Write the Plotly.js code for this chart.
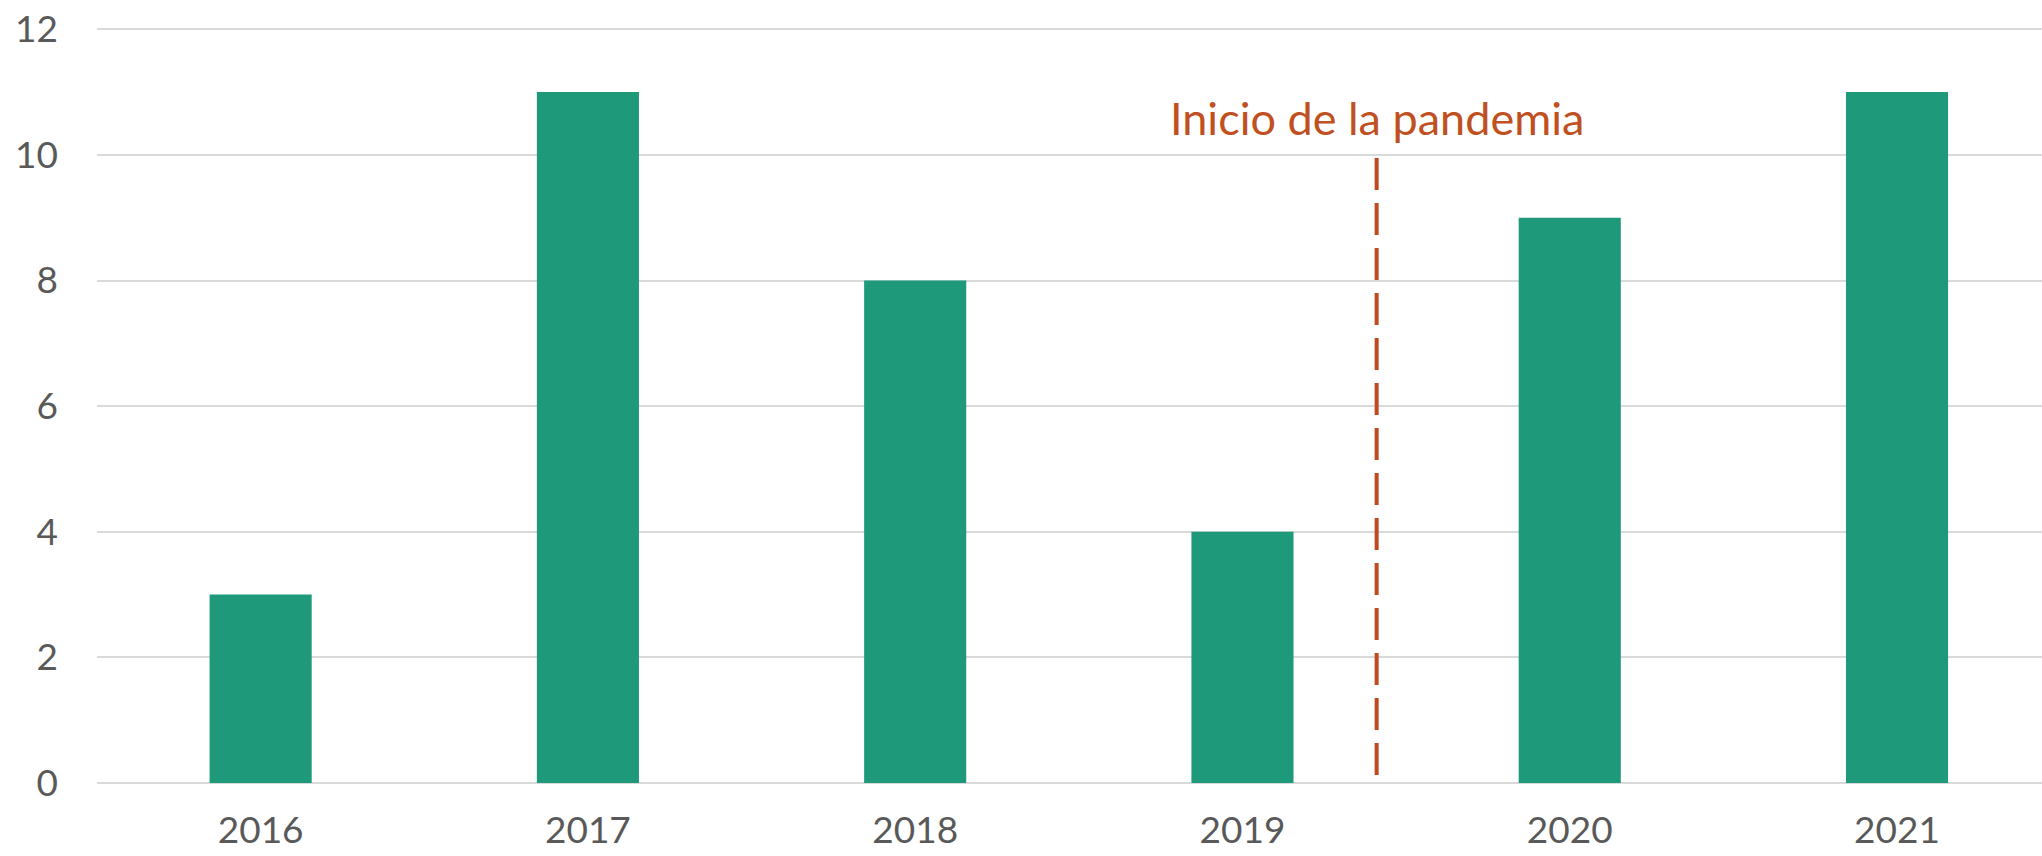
<!DOCTYPE html>
<html>
<head>
<meta charset="utf-8">
<script src="https://cdn.plot.ly/plotly-3.0.1.min.js"></script>
<style>html,body{margin:0;padding:0;background:#fff;}#chart{width:2042px;height:856px;}</style>
</head>
<body>
<div id="chart"></div>
<script>
const years = ["2016", "2017", "2018", "2019", "2020", "2021"];
const counts = [3, 11, 8, 4, 9, 11];
const yTicks = [0, 2, 4, 6, 8, 10, 12];
const pandemiaLabel = "Inicio de la pandemia";
const pandemiaX = 3.41;   // between 2019 and 2020
const pandemiaTop = 10;

const FONT = "Lato, 'Open Sans', sans-serif";

const trace = {
  type: "bar",
  x: years,
  y: counts,
  width: 0.312,
  marker: { color: "#1E9A7A", line: { width: 0 } },
  hoverinfo: "x+y"
};

const layout = {
  width: 2042,
  height: 856,
  margin: { l: 97, r: 0, t: 28, b: 73, pad: 0 },
  paper_bgcolor: "#ffffff",
  plot_bgcolor: "#ffffff",
  showlegend: false,
  font: { family: FONT, color: "#595959", size: 36 },
  xaxis: {
    type: "category",
    range: [-0.5, 5.443],
    showgrid: false,
    zeroline: false,
    showline: false,
    ticks: "",
    ticklabelstandoff: 22,
    tickfont: { family: FONT, size: 37, color: "#595959" }
  },
  yaxis: {
    range: [0, 12.02],
    tickvals: yTicks,
    ticktext: yTicks.map(String),
    showgrid: true,
    gridcolor: "#d9d9d9",
    gridwidth: 2,
    zeroline: true,
    zerolinecolor: "#d9d9d9",
    zerolinewidth: 2,
    showline: false,
    ticks: "",
    ticklabelstandoff: 38,
    tickfont: { family: FONT, size: 37, color: "#595959" }
  },
  shapes: [{
    type: "line",
    xref: "x", yref: "y",
    x0: pandemiaX, x1: pandemiaX,
    y0: pandemiaTop - 0.05, y1: -0.1,
    line: { color: "#BF4B1C", width: 4, dash: "32px,13px" }
  }],
  annotations: [{
    xref: "x", yref: "y",
    x: pandemiaX, y: pandemiaTop,
    xanchor: "center", yanchor: "bottom",
    yshift: 8,
    text: pandemiaLabel,
    showarrow: false,
    font: { family: FONT, size: 45, color: "#C0501F" }
  }]
};

Plotly.newPlot("chart", [trace], layout, { displayModeBar: false, staticPlot: true });
</script>
</body>
</html>
